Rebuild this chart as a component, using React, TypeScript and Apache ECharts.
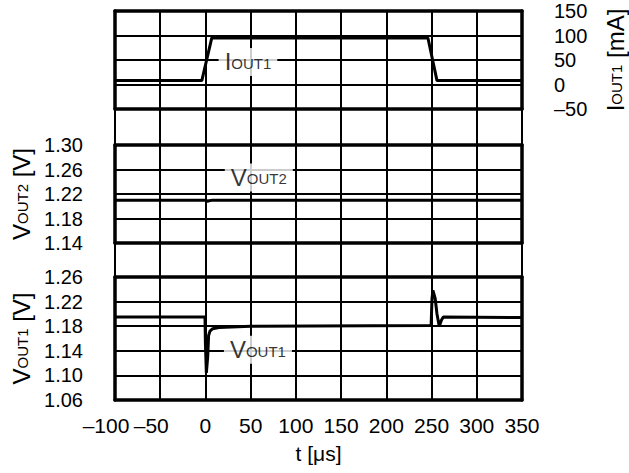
import React, { useEffect, useRef } from "react";
import * as echarts from "echarts";

// Tick values
const X_TICKS = [-100, -50, 0, 50, 100, 150, 200, 250, 300, 350];
const IOUT1_TICKS = [-50, 0, 50, 100, 150];
const VOUT2_TICKS = [1.14, 1.18, 1.22, 1.26, 1.3];
const VOUT1_TICKS = [1.06, 1.1, 1.14, 1.18, 1.22, 1.26];

// IOUT1 [mA] vs t [µs]
const IOUT1_T = [-100, -4, 7, 246, 256, 350];
const IOUT1_MA = [8, 8, 95, 95, 8, 8];

// VOUT2 [V] vs t [µs]
const VOUT2_T = [-100, 0, 2, 4, 8, 350];
const VOUT2_V = [1.21, 1.21, 1.208, 1.209, 1.21, 1.21];

// VOUT1 [V] vs t [µs]
const VOUT1_T = [-100, -0.5, 0, 1, 2.5, 3.5, 5, 8, 15, 50, 249.5, 250.5, 251.5, 254, 256, 258.5, 261, 263, 350];
const VOUT1_V = [1.195, 1.195, 1.15, 1.104, 1.13, 1.165, 1.172, 1.176, 1.178, 1.18, 1.181, 1.225, 1.238, 1.225, 1.2, 1.18, 1.19, 1.195, 1.194];

// Series label anchors (data coordinates)
const IOUT1_LABEL = [47, 46];
const VOUT2_LABEL = [59, 1.247];
const VOUT1_LABEL = [58, 1.1416];

const FONT = "'Liberation Sans', Arial, sans-serif";
const zip = (a: number[], b: number[]) => a.map((v, i) => [v, b[i]]);
const dash = (v: number) => (v < 0 ? "\u2013" + Math.abs(v) : String(v));

const RICH = {
  b: { fontSize: 24, lineHeight: 24, fontFamily: FONT, color: "#000", verticalAlign: "bottom" },
  s: { fontSize: 15, lineHeight: 15, fontFamily: FONT, color: "#000", verticalAlign: "bottom", padding: [0, 0, 3, 0] },
};

export default function App() {
  const ref = useRef<HTMLDivElement>(null);
  useEffect(() => {
    if (!ref.current) return;
    const chart = echarts.init(ref.current, undefined, { renderer: "svg" });
    const L = 115, R = 107;
    const gridBase = { left: L, right: R, show: false, outerBoundsMode: "none", containLabel: false };
    const hl = { color: "#000", width: 2 };
    const border = { show: true, onZero: false, lineStyle: { color: "#000", width: 3.5 } };
    const frameX = (gi: number, position: string) => ({
      type: "value", gridIndex: gi, position, min: -100, max: 350, interval: 50, z: 3,
      axisLine: border, axisTick: { show: false }, axisLabel: { show: false }, splitLine: { show: false },
    });
    const frameY = (gi: number, position: string, min: number, max: number) => ({
      type: "value", gridIndex: gi, position, min, max, z: 3,
      axisLine: border, axisTick: { show: false }, axisLabel: { show: false }, splitLine: { show: false },
    });
    const labelSeries = (xi: number, pos: number[], txt: string) => ({
      type: "scatter", xAxisIndex: xi, yAxisIndex: xi, data: [pos], symbolSize: 0, z: 6, silent: true,
      label: {
        show: true, position: "inside", formatter: txt, rich: RICH,
        backgroundColor: "#fff", padding: [2, 6, 2, 6],
      },
    });
    const tickLabel = { margin: 32, fontSize: 20, fontFamily: FONT, color: "#000" };
    chart.setOption({
      animation: false,
      grid: [
        { ...gridBase, top: 10, bottom: 73 },
        { ...gridBase, top: 11, height: 98 },
        { ...gridBase, top: 145, height: 98 },
        { ...gridBase, top: 277, height: 123 },
      ],
      xAxis: [
        {
          type: "value", gridIndex: 0, min: -100, max: 350, interval: 50, z: 4,
          axisLine: { show: false }, axisTick: { show: false },
          splitLine: { show: true, lineStyle: hl },
          axisLabel: {
            show: true, margin: 15, fontSize: 21, fontFamily: FONT, color: "#000",
            formatter: (v: number) => (v < 0 ? "{n|" + dash(v) + "}" : String(v)),
            rich: { n: { fontSize: 21, fontFamily: FONT, color: "#000", padding: [0, 18, 0, 0] } },
          },
          name: "t [\u03bcs]", nameLocation: "middle", nameGap: 43,
          nameTextStyle: { fontSize: 21, fontFamily: FONT, color: "#000" },
        },
        frameX(1, "bottom"), frameX(2, "bottom"), frameX(3, "bottom"),
        frameX(1, "top"), frameX(2, "top"), frameX(3, "top"),
      ],
      yAxis: [
        { type: "value", gridIndex: 0, min: 0, max: 1, show: false },
        {
          type: "value", gridIndex: 1, position: "right", min: -50, max: 150, interval: 50, z: 0,
          axisLine: border, axisTick: { show: false },
          splitLine: { show: true, lineStyle: hl },
          axisLabel: { ...tickLabel, formatter: (v: number) => dash(v) },
          name: "{b|I}{s|OUT1}{b| [mA]}", nameLocation: "middle", nameRotate: 90, nameGap: 81,
          nameTextStyle: { rich: RICH },
        },
        {
          type: "value", gridIndex: 2, position: "left", min: 1.14, max: 1.3, z: 0,
          axisLine: border,
          axisTick: { show: false, customValues: VOUT2_TICKS },
          splitLine: { show: true, lineStyle: hl },
          axisLabel: { ...tickLabel, customValues: VOUT2_TICKS, formatter: (v: number) => v.toFixed(2) },
          name: "{b|V}{s|OUT2}{b| [V]}", nameLocation: "middle", nameRotate: 90, nameGap: 82,
          nameTextStyle: { rich: RICH },
        },
        {
          type: "value", gridIndex: 3, position: "left", min: 1.06, max: 1.26, z: 0,
          axisLine: border,
          axisTick: { show: false, customValues: VOUT1_TICKS },
          splitLine: { show: true, lineStyle: hl },
          axisLabel: { ...tickLabel, customValues: VOUT1_TICKS, formatter: (v: number) => v.toFixed(2) },
          name: "{b|V}{s|OUT1}{b| [V]}", nameLocation: "middle", nameRotate: 90, nameGap: 82,
          nameTextStyle: { rich: RICH },
        },
        frameY(1, "left", -50, 150), frameY(2, "right", 1.14, 1.3), frameY(3, "right", 1.06, 1.26),
      ],
      series: [
        { type: "line", xAxisIndex: 1, yAxisIndex: 1, data: zip(IOUT1_T, IOUT1_MA), showSymbol: false, lineStyle: { color: "#000", width: 3 }, z: 5 },
        { type: "line", xAxisIndex: 2, yAxisIndex: 2, data: zip(VOUT2_T, VOUT2_V), showSymbol: false, lineStyle: { color: "#000", width: 3 }, z: 5 },
        { type: "line", xAxisIndex: 3, yAxisIndex: 3, data: zip(VOUT1_T, VOUT1_V), showSymbol: false, lineStyle: { color: "#000", width: 3 }, z: 5 },
        labelSeries(1, IOUT1_LABEL, "{b|I}{s|OUT1}"),
        labelSeries(2, VOUT2_LABEL, "{b|V}{s|OUT2}"),
        labelSeries(3, VOUT1_LABEL, "{b|V}{s|OUT1}"),
      ],
    });
    return () => chart.dispose();
  }, []);
  return <div ref={ref} style={{ position: "fixed", left: 0, top: 0, width: 629, height: 473, background: "#fff" }} />;
}
